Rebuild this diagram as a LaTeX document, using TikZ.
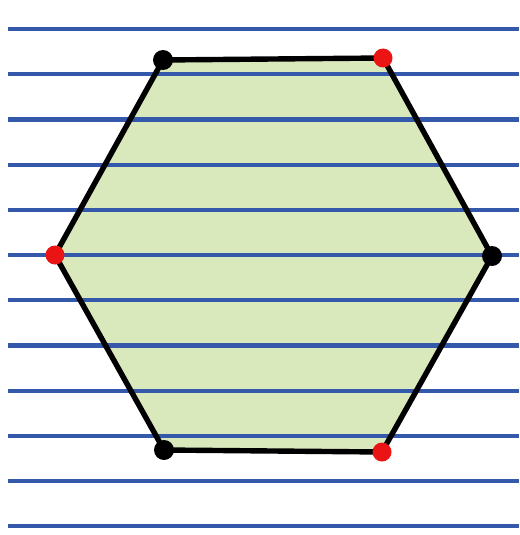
\documentclass[tikz,border=0pt]{standalone}
\definecolor{fillgreen}{RGB}{218,233,188}
\definecolor{ruleblue}{RGB}{52,88,170}
\definecolor{dotred}{RGB}{235,20,20}
\tikzset{
  rule/.style={draw=ruleblue,line width=4.2pt},
  hexedge/.style={draw=black,line width=5.4pt,line join=round},
  bdot/.style={circle,fill=black,inner sep=0pt,minimum size=20pt},
  rdot/.style={circle,fill=dotred,inner sep=0pt,minimum size=19pt}
}
\begin{document}
\begin{tikzpicture}[x=1pt,y=-1pt]
\useasboundingbox[fill=white] (0,0) rectangle (519,535);
\coordinate (A) at (163,60);
\coordinate (B) at (383,58);
\coordinate (C) at (492,256);
\coordinate (D) at (382,452);
\coordinate (E) at (164,450);
\coordinate (F) at (55,255);
\fill[fillgreen] (A) -- (B) -- (C) -- (D) -- (E) -- (F) -- cycle;
\foreach \y in {29,74.2,119.4,164.6,209.8,255,300.2,345.4,390.6,435.8,481,526.2}
  \draw[rule] (8,\y) -- (519,\y);
\draw[hexedge] (A) -- (B) -- (C) -- (D) -- (E) -- (F) -- cycle;
\node[bdot] (nA) at (A) {};
\node[rdot] (nB) at (B) {};
\node[bdot] (nC) at (C) {};
\node[rdot] (nD) at (D) {};
\node[bdot] (nE) at (E) {};
\node[rdot] (nF) at (F) {};
\end{tikzpicture}
\end{document}
